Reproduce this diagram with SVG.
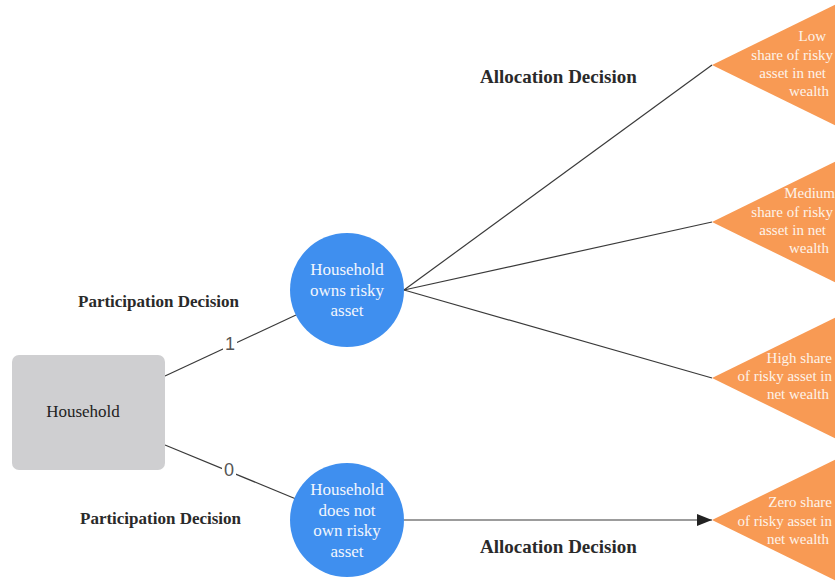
<svg xmlns="http://www.w3.org/2000/svg" width="835" height="585" viewBox="0 0 835 585">
<defs>
<style>
.edge{stroke:#3a3a3a;stroke-width:1.2;fill:none}
.tri{fill:#f89a54}
.tt{font-family:"Liberation Serif",serif;font-size:15px;fill:#fdf3ea;text-anchor:end}
.ct{font-family:"Liberation Serif",serif;font-size:17px;fill:#f2f6fd;text-anchor:middle}
.circ{fill:#3f8fef}
.hd{font-family:"Liberation Serif",serif;font-size:17px;font-weight:bold;fill:#2a2a2a}
.hd2{font-family:"Liberation Serif",serif;font-size:19px;font-weight:bold;fill:#2a2a2a}
.lbl{font-family:"Liberation Sans",sans-serif;font-size:18px;fill:#555;text-anchor:middle}
</style>
<marker id="arr" markerWidth="16" markerHeight="12" refX="15" refY="6" orient="auto" markerUnits="userSpaceOnUse">
<path d="M0,0 L15,6 L0,12 Z" fill="#222"/>
</marker>
</defs>
<rect width="835" height="585" fill="#fff"/>
<g id="connectors">
<line class="edge" x1="165" y1="376" x2="296" y2="315"/>
<line class="edge" x1="165" y1="445" x2="296" y2="499"/>
<line class="edge" x1="404" y1="290" x2="712" y2="65"/>
<line class="edge" x1="404" y1="290" x2="712" y2="222"/>
<line class="edge" x1="404" y1="290" x2="712" y2="378"/>
<line class="edge" x1="404" y1="520" x2="712" y2="520" marker-end="url(#arr)"/>
<rect x="223" y="332" width="14" height="21" fill="#fff"/>
<text class="lbl" x="230" y="350">1</text>
<rect x="222" y="458" width="14" height="21" fill="#fff"/>
<text class="lbl" x="229" y="476">0</text>
</g>
<g id="household">
<rect x="12" y="355" width="153" height="115" rx="7" fill="#cfcfd1"/>
<text x="83" y="417" font-family="'Liberation Serif',serif" font-size="17" fill="#222" text-anchor="middle">Household</text>
</g>
<g id="owns">
<circle class="circ" cx="347" cy="290" r="57"/>
<text class="ct" x="347" y="275">Household</text>
<text class="ct" x="347" y="296">owns risky</text>
<text class="ct" x="347" y="316">asset</text>
</g>
<g id="notown">
<circle class="circ" cx="347" cy="520" r="57"/>
<text class="ct" x="347" y="495">Household</text>
<text class="ct" x="347" y="516">does not</text>
<text class="ct" x="347" y="536">own risky</text>
<text class="ct" x="347" y="557">asset</text>
</g>
<g id="low">
<polygon class="tri" points="712,65 900,-27 900,157"/>
<text class="tt" x="826" y="41">Low</text>
<text class="tt" x="833" y="60">share of risky</text>
<text class="tt" x="826" y="78">asset in net</text>
<text class="tt" x="829" y="96">wealth</text>
</g>
<g id="medium">
<polygon class="tri" points="712,222 900,130 900,314"/>
<text class="tt" x="835" y="198">Medium</text>
<text class="tt" x="833" y="217">share of risky</text>
<text class="tt" x="826" y="235">asset in net</text>
<text class="tt" x="829" y="253">wealth</text>
</g>
<g id="high">
<polygon class="tri" points="712,378 900,286 900,470"/>
<text class="tt" x="832" y="363">High share</text>
<text class="tt" x="832" y="381">of risky asset in</text>
<text class="tt" x="829" y="399">net wealth</text>
</g>
<g id="zero">
<polygon class="tri" points="712,520 900,428 900,612"/>
<text class="tt" x="832" y="507">Zero share</text>
<text class="tt" x="832" y="526">of risky asset in</text>
<text class="tt" x="829" y="544">net wealth</text>
</g>
<g id="headings">
<text class="hd" x="78" y="307">Participation Decision</text>
<text class="hd" x="80" y="524">Participation Decision</text>
<text class="hd2" x="480" y="83">Allocation Decision</text>
<text class="hd2" x="480" y="553">Allocation Decision</text>
</g>
</svg>
